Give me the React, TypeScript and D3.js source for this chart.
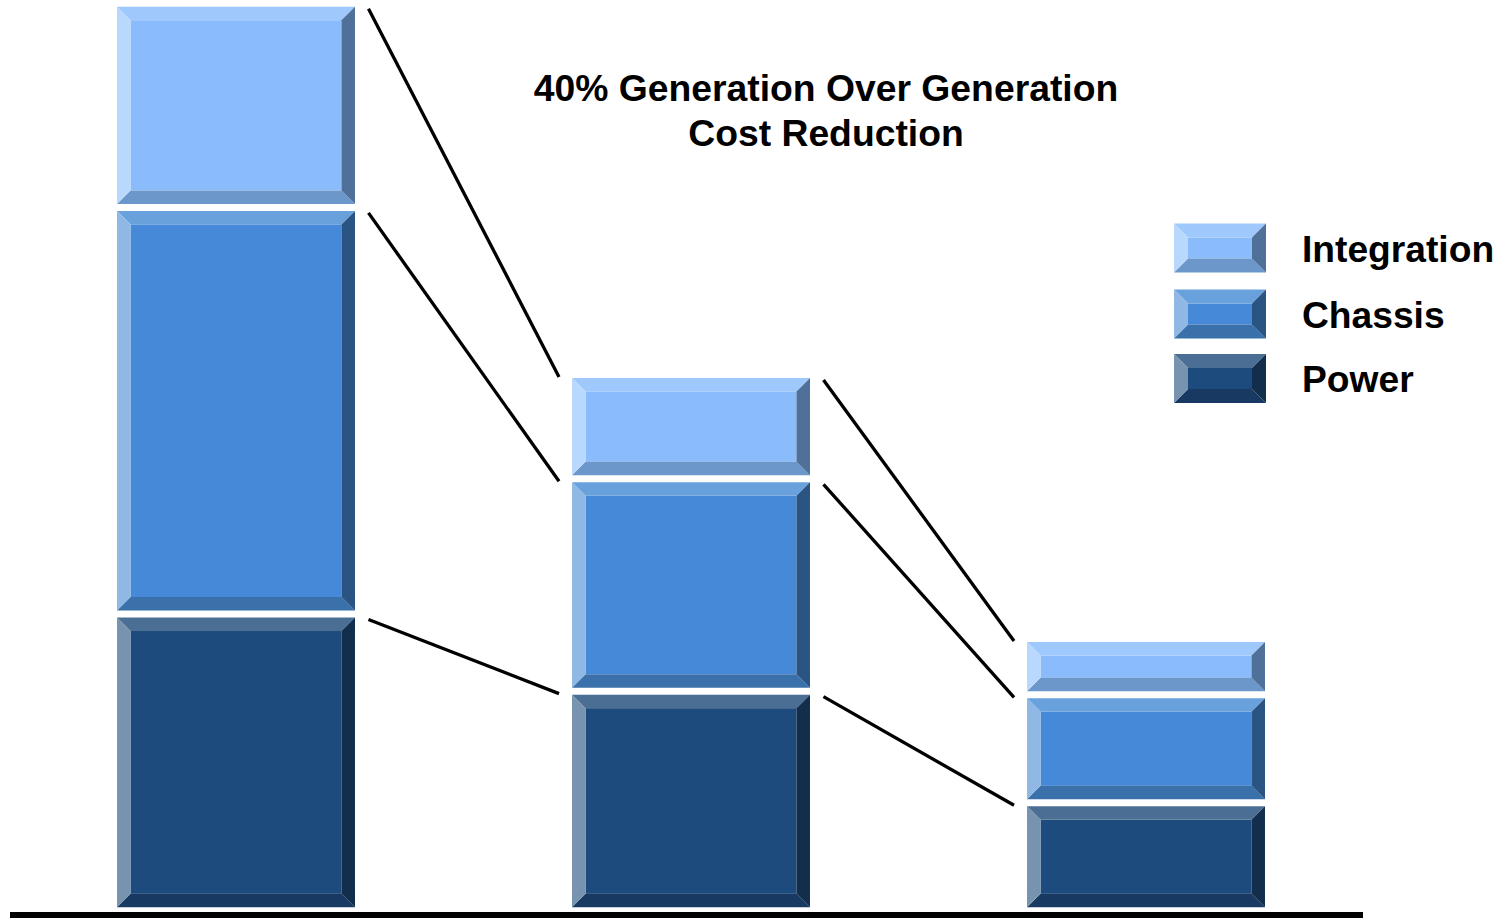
import React from "react";
import * as d3 from "d3";

const generations = ["Gen 1", "Gen 2", "Gen 3"];
const seriesNames = ["Power", "Chassis", "Integration"];
const powerValues = [32.7, 24.2, 11.9];
const chassisValues = [44.8, 23.4, 11.9];
const integrationValues = [22.5, 11.5, 6.2];
const legendOrder = ["Integration", "Chassis", "Power"];
const titleLines = ["40% Generation Over Generation", "Cost Reduction"];

type Shades = { face: string; top: string; left: string; right: string; bottom: string };
const shades: Record<string, Shades> = {
  Integration: { face: "#8abcfc", top: "#9fc8fc", left: "#b8d8fe", right: "#4f7098", bottom: "#6b97ca" },
  Chassis: { face: "#4689d8", top: "#69a1dc", left: "#8fb8e5", right: "#2a5482", bottom: "#3a71aa" },
  Power: { face: "#1e4b7d", top: "#4a6e94", left: "#7893af", right: "#132e4c", bottom: "#183a62" },
};

const W = 1500;
const H = 918;
const GAP = 3.5;
const FONT = "'Liberation Sans', Arial, sans-serif";

function Bevel({ x, y, w, h, s, b = 13.5 }: { x: number; y: number; w: number; h: number; s: Shades; b?: number }) {
  const bb = Math.min(b, h / 2, w / 2);
  const pts = (arr: number[][]) => arr.map((p) => p.join(",")).join(" ");
  return (
    <g>
      <rect x={x + bb} y={y + bb} width={w - 2 * bb} height={h - 2 * bb} fill={s.face} />
      <polygon points={pts([[x, y], [x + w, y], [x + w - bb, y + bb], [x + bb, y + bb]])} fill={s.top} />
      <polygon points={pts([[x, y + h], [x + w, y + h], [x + w - bb, y + h - bb], [x + bb, y + h - bb]])} fill={s.bottom} />
      <polygon points={pts([[x, y], [x + bb, y + bb], [x + bb, y + h - bb], [x, y + h]])} fill={s.left} />
      <polygon points={pts([[x + w, y], [x + w - bb, y + bb], [x + w - bb, y + h - bb], [x + w, y + h]])} fill={s.right} />
    </g>
  );
}

export default function App() {
  const x = d3.scaleBand<string>().domain(generations).range([8.5, 1373.5]).paddingInner(0.477).paddingOuter(0.2385);
  const y = d3.scaleLinear().domain([0, 100]).range([910.8, 3.2]);

  const table = generations.map((g, i) => ({
    gen: g,
    Power: powerValues[i],
    Chassis: chassisValues[i],
    Integration: integrationValues[i],
  }));
  const stacked = d3.stack<any>().keys(seriesNames)(table);

  const bw = x.bandwidth();

  const connectors: { x1: number; y1: number; x2: number; y2: number }[] = [];
  stacked.forEach((layer) => {
    for (let i = 0; i < generations.length - 1; i++) {
      const a = layer[i];
      const b = layer[i + 1];
      const xa = (x(generations[i]) as number) + bw + 13.5;
      const xb = (x(generations[i + 1]) as number) - 13;
      connectors.push({ x1: xa, y1: y(a[1]) + GAP + 2, x2: xb, y2: y(b[1]) + GAP - 1 });
    }
  });

  const legendX = 1174;
  const legendW = 92;
  const legendH = 49;
  const legendY = [223.5, 289.5, 354];

  return (
    <svg width={W} height={H} style={{ position: "absolute", left: 0, top: 0, background: "#ffffff" }}>
      <rect width={W} height={H} fill="#ffffff" />
      {stacked.map((layer) => (
        <g key={layer.key}>
          {layer.map((d, i) => {
            const bx = x(generations[i]) as number;
            const top = y(d[1]) + GAP;
            const bot = y(d[0]) - GAP;
            return <Bevel key={i} x={bx} y={top} w={bw} h={bot - top} s={shades[layer.key]} />;
          })}
        </g>
      ))}
      {connectors.map((c, i) => (
        <line key={i} x1={c.x1} y1={c.y1} x2={c.x2} y2={c.y2} stroke="#000" strokeWidth={3.3} />
      ))}
      <line x1={10} x2={1363} y1={915} y2={915} stroke="#000" strokeWidth={6} />
      <g fontFamily={FONT} fontWeight="bold" fill="#000" textAnchor="middle" fontSize={37.3}>
        <text x={826} y={101}>{titleLines[0]}</text>
        <text x={826} y={146}>{titleLines[1]}</text>
      </g>
      {legendOrder.map((name, i) => (
        <g key={name}>
          <Bevel x={legendX} y={legendY[i]} w={legendW} h={legendH} s={shades[name]} b={14} />
          <text x={1302} y={legendY[i] + 38} fontFamily={FONT} fontWeight="bold" fontSize={37.2} fill="#000">
            {name}
          </text>
        </g>
      ))}
    </svg>
  );
}
